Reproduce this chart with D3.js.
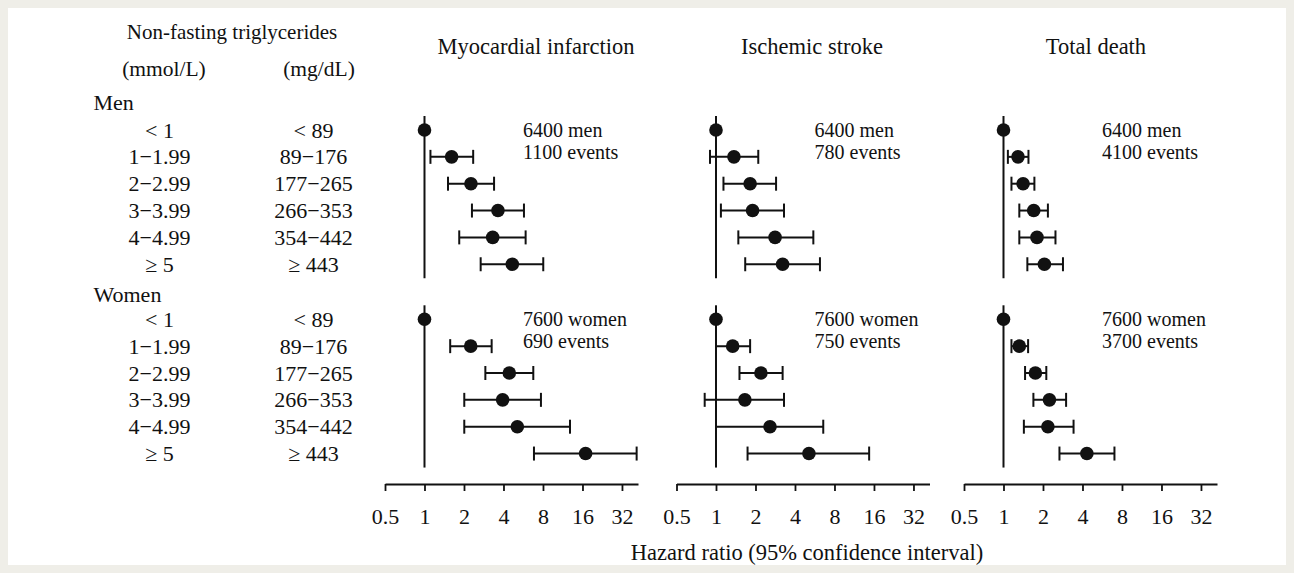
<!DOCTYPE html>
<html>
<head>
<meta charset="utf-8">
<script src="https://cdn.jsdelivr.net/npm/d3@7"></script>
<style>
  html, body { margin: 0; padding: 0; background: #efeee8; }
  svg { display: block; }
  text { font-family: "Liberation Serif", "Times New Roman", serif; fill: #111; }
</style>
</head>
<body>
<svg id="chart" width="1294" height="573"></svg>
<script>
// ---------- data ----------
const categoriesMmol = ["< 1", "1\u22121.99", "2\u22122.99", "3\u22123.99", "4\u22124.99", "\u2265 5"];
const categoriesMg = ["< 89", "89\u2212176", "177\u2212265", "266\u2212353", "354\u2212442", "\u2265 443"];
const groups = ["Men", "Women"];
const outcomes = ["Myocardial infarction", "Ischemic stroke", "Total death"];
const tickValues = [0.5, 1, 2, 4, 8, 16, 32];
const tickLabels = ["0.5", "1", "2", "4", "8", "16", "32"];

// Myocardial infarction
const miMenHR = [1, 1.61, 2.26, 3.63, 3.31, 4.67];
const miMenLo = [null, 1.11, 1.51, 2.30, 1.84, 2.68];
const miMenHi = [null, 2.35, 3.39, 5.73, 5.90, 8.04];
const miWomenHR = [1, 2.25, 4.43, 3.94, 5.10, 16.9];
const miWomenLo = [null, 1.57, 2.91, 2.01, 2.01, 6.83];
const miWomenHi = [null, 3.25, 6.75, 7.72, 12.85, 41.4];
// Ischemic stroke
const isMenHR = [1, 1.37, 1.82, 1.90, 2.82, 3.22];
const isMenLo = [null, 0.90, 1.14, 1.09, 1.48, 1.67];
const isMenHi = [null, 2.10, 2.87, 3.30, 5.52, 6.20];
const isWomenHR = [1, 1.34, 2.20, 1.66, 2.58, 5.11];
const isWomenLo = [null, 1.0, 1.51, 0.82, 1.0, 1.74];
const isWomenHi = [null, 1.82, 3.22, 3.30, 6.57, 14.7];
// Total death
const tdMenHR = [1, 1.29, 1.41, 1.70, 1.80, 2.05];
const tdMenLo = [null, 1.08, 1.15, 1.32, 1.32, 1.52];
const tdMenHi = [null, 1.55, 1.72, 2.18, 2.49, 2.84];
const tdWomenHR = [1, 1.32, 1.75, 2.24, 2.18, 4.32];
const tdWomenLo = [null, 1.15, 1.46, 1.69, 1.43, 2.67];
const tdWomenHi = [null, 1.54, 2.12, 3.00, 3.42, 7.01];

const participants = ["6400 men", "7600 women"];
const eventsMen = ["1100 events", "780 events", "4100 events"];
const eventsWomen = ["690 events", "750 events", "3700 events"];

const series = [
  [[miMenHR, miMenLo, miMenHi], [miWomenHR, miWomenLo, miWomenHi]],
  [[isMenHR, isMenLo, isMenHi], [isWomenHR, isWomenLo, isWomenHi]],
  [[tdMenHR, tdMenLo, tdMenHi], [tdWomenHR, tdWomenLo, tdWomenHi]]
];
const events = [eventsMen, eventsWomen];

// ---------- layout ----------
const svg = d3.select("#chart");
svg.append("rect").attr("x", 8).attr("y", 8).attr("width", 1278).attr("height", 557).attr("fill", "#fff");

const panelX = [385, 676.5, 964];
const panelW = 253;
const titleCx = [536, 812, 1096];
const groupTop = [130, 319.3];
const rowStep = 26.85;
const axisY = 484;

const x = d3.scaleLog().base(2).domain([0.5, 42.4]).range([0, panelW]);
const rowScale = d3.scalePoint().domain(d3.range(categoriesMmol.length)).range([0, rowStep * 5]);

// left header
svg.append("text").attr("x", 232).attr("y", 38.5).attr("text-anchor", "middle")
  .style("font-size", "21px").text("Non-fasting triglycerides");
svg.append("text").attr("x", 164).attr("y", 76).attr("text-anchor", "middle")
  .style("font-size", "21.5px").text("(mmol/L)");
svg.append("text").attr("x", 319).attr("y", 76).attr("text-anchor", "middle")
  .style("font-size", "21.5px").text("(mg/dL)");

groups.forEach((g, gi) => {
  const top = groupTop[gi];
  svg.append("text").attr("x", 93.5).attr("y", gi === 0 ? 110 : 302)
    .style("font-size", "22px").text(g);
  categoriesMmol.forEach((c, i) => {
    const y = top + rowScale(i) + 7.5;
    svg.append("text").attr("x", 159.5).attr("y", y).attr("text-anchor", "middle")
      .style("font-size", "22px").text(c);
    svg.append("text").attr("x", 313.5).attr("y", y).attr("text-anchor", "middle")
      .style("font-size", "22px").text(categoriesMg[i]);
  });
});

// panels
outcomes.forEach((o, pi) => {
  const p = svg.append("g").attr("transform", `translate(${panelX[pi]},0)`);
  svg.append("text").attr("x", titleCx[pi]).attr("y", 54).attr("text-anchor", "middle")
    .style("font-size", "22.5px").text(o);

  groups.forEach((g, gi) => {
    const top = groupTop[gi];
    const [hr, lo, hi] = series[pi][gi];
    // reference line at HR = 1
    p.append("line")
      .attr("x1", x(1)).attr("x2", x(1))
      .attr("y1", top - 14).attr("y2", top + rowScale(5) + 14)
      .attr("stroke", "#111").attr("stroke-width", 2);

    const rows = hr.map((v, i) => ({ v, lo: lo[i], hi: hi[i], y: top + rowScale(i) }));
    const ci = rows.filter(d => d.lo != null);
    const gci = p.append("g").attr("stroke", "#111").attr("stroke-width", 2);
    gci.selectAll("line.ci").data(ci).join("line").attr("class", "ci")
      .attr("x1", d => x(d.lo)).attr("x2", d => x(d.hi))
      .attr("y1", d => d.y).attr("y2", d => d.y);
    gci.selectAll("line.capl").data(ci).join("line").attr("class", "capl")
      .attr("x1", d => x(d.lo)).attr("x2", d => x(d.lo))
      .attr("y1", d => d.y - 7).attr("y2", d => d.y + 7);
    gci.selectAll("line.caph").data(ci).join("line").attr("class", "caph")
      .attr("x1", d => x(d.hi)).attr("x2", d => x(d.hi))
      .attr("y1", d => d.y - 7).attr("y2", d => d.y + 7);
    p.selectAll(null).data(rows).join("circle")
      .attr("cx", d => x(d.v)).attr("cy", d => d.y).attr("r", 6.8).attr("fill", "#111");

    // annotation
    p.append("text").attr("x", 138).attr("y", top + 7)
      .style("font-size", "20px").text(participants[gi]);
    p.append("text").attr("x", 138).attr("y", top + 28.5)
      .style("font-size", "20px").text(events[gi][pi]);
  });

  // axis
  const axis = d3.axisBottom(x).tickValues(tickValues)
    .tickFormat((d, i) => tickLabels[i]).tickSize(7).tickSizeOuter(0);
  const ga = p.append("g").attr("transform", `translate(0,${axisY})`).call(axis);
  ga.select(".domain").attr("stroke", "#111").attr("stroke-width", 1.8);
  ga.selectAll(".tick line").attr("stroke", "#111").attr("stroke-width", 1.8);
  ga.selectAll(".tick text").attr("y", 40).attr("dy", 0)
    .style("font-size", "22px").style("font-family", "'Liberation Serif', serif").attr("fill", "#111");
});

svg.append("text").attr("x", 807).attr("y", 560).attr("text-anchor", "middle")
  .style("font-size", "22.5px").text("Hazard ratio (95% confidence interval)");
</script>
</body>
</html>
